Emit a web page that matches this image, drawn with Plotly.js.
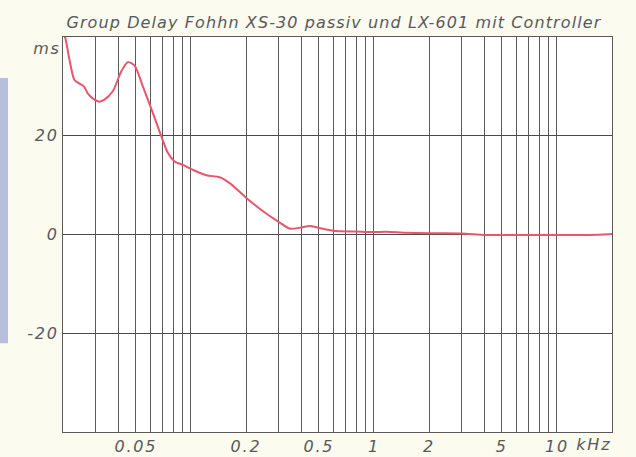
<!DOCTYPE html>
<html>
<head>
<meta charset="utf-8">
<script src="https://cdn.plot.ly/plotly-3.0.1.min.js"></script>
<style>
html,body{margin:0;padding:0;background:#fbfbf0;}
#chart{width:636px;height:457px;}
#chart .xtick text, #chart .ytick text, #chart .annotation-text {letter-spacing: 1.8px;}
#chart .gtitle {letter-spacing: 1.1px;}
</style>
</head>
<body>
<div id="chart"></div>
<script>
// Frequency in kHz
const freqKHz = [0.02, 0.0205, 0.0217, 0.0231, 0.0245, 0.026, 0.0273, 0.0297, 0.0316, 0.0337, 0.0374, 0.0416, 0.0452, 0.0492, 0.0546, 0.062, 0.0689, 0.0749, 0.0815, 0.0904, 0.1025, 0.1214, 0.1436, 0.163, 0.201, 0.248, 0.306, 0.347, 0.394, 0.447, 0.528, 0.625, 0.8, 1.0, 1.17, 1.5, 2.2, 3.0, 4.1, 6, 10, 15, 20];
// Group delay in ms
const delayMs = [40.5, 40, 35.4, 31.3, 30.6, 30.0, 28.6, 27.3, 26.9, 27.3, 29, 33, 34.9, 34.2, 30, 24.6, 19.9, 16.5, 14.8, 14.1, 13.1, 12, 11.6, 10.4, 7.4, 4.7, 2.4, 1.2, 1.35, 1.7, 1.15, 0.7, 0.6, 0.5, 0.55, 0.35, 0.25, 0.2, -0.1, -0.1, -0.1, -0.1, 0.1];

const xGridVals = [0.03,0.04,0.05,0.06,0.07,0.08,0.09,0.1,0.2,0.3,0.4,0.5,0.6,0.7,0.8,0.9,1,2,3,4,5,6,7,8,9,10];
const xLabelVals = [0.05, 0.2, 0.5, 1, 2, 5, 10];
const xLabelText = ['0.05', '0.2', '0.5', '1', '2', '5', '10'];
const yTickVals = [-40, -20, 0, 20, 40];
const yTickText = ['', '-20', '0', '20', ''];
const titleText = 'Group Delay Fohhn XS-30 passiv und LX-601 mit Controller';
const yUnit = 'ms';
const xUnit = 'kHz';

const xTickText = xGridVals.map(v => {
  const i = xLabelVals.indexOf(v);
  return i >= 0 ? xLabelText[i] : '';
});

const fontFam = 'DejaVu Sans, sans-serif';
const grey = '#595959';

const trace = {
  x: freqKHz, y: delayMs, type: 'scatter', mode: 'lines',
  line: {color: '#e8566c', width: 2, shape: 'spline', smoothing: 0.8},
  hoverinfo: 'skip'
};

const tickFont = {family: fontFam, size: 16, color: grey, style: 'italic'};

const layout = {
  width: 636, height: 457,
  margin: {l: 63, r: 24, t: 37, b: 25},
  paper_bgcolor: '#fbfbf0',
  plot_bgcolor: '#ffffff',
  showlegend: false,
  title: {text: titleText, font: {family: fontFam, size: 16, color: grey, style: 'italic'}, x: 0.525, xanchor: 'center', y: 0.952, yanchor: 'middle'},
  xaxis: {
    type: 'log', range: [Math.log10(0.02), Math.log10(20)],
    tickmode: 'array', tickvals: xGridVals, ticktext: xTickText,
    showgrid: true, gridcolor: '#5a5a5a', gridwidth: 1,
    showline: true, linecolor: '#5a5a5a', linewidth: 1, mirror: true,
    ticks: '', zeroline: false,
    tickfont: tickFont
  },
  yaxis: {
    range: [-40, 40],
    tickmode: 'array', tickvals: yTickVals, ticktext: yTickText,
    showgrid: true, gridcolor: '#4a4a4a', gridwidth: 1,
    showline: true, linecolor: '#5a5a5a', linewidth: 1, mirror: true,
    ticks: '', zeroline: false,
    tickfont: tickFont
  },
  shapes: [
    {type: 'rect', xref: 'paper', yref: 'paper', x0: -0.1148, x1: -0.1002, y0: 0.225, y1: 0.896,
     fillcolor: '#b6c0dc', line: {width: 0}, layer: 'below'}
  ],
  annotations: [
    {xref: 'paper', yref: 'paper', x: -0.004, y: 0.972, xanchor: 'right', yanchor: 'middle',
     text: yUnit, showarrow: false, font: tickFont},
    {xref: 'paper', yref: 'paper', x: 0.937, y: -0.032, xanchor: 'left', yanchor: 'middle',
     text: xUnit, showarrow: false, font: tickFont}
  ]
};

Plotly.newPlot('chart', [trace], layout, {staticPlot: true, displayModeBar: false});
</script>
</body>
</html>
